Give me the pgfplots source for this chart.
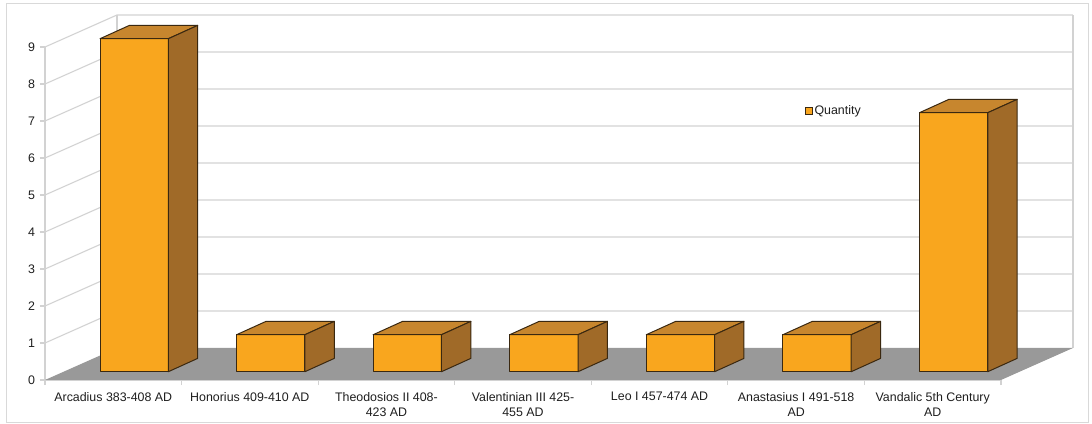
\documentclass[border=0pt]{standalone}
\usepackage{fontspec}
\setmainfont{Liberation Sans}
\usepackage{pgfplots}
\pgfplotsset{compat=1.18}
\usepackage{pgfplotstable}

\definecolor{barfront}{RGB}{249,166,30}
\definecolor{bartop}{RGB}{199,134,46}
\definecolor{barside}{RGB}{160,106,40}
\definecolor{barline}{RGB}{58,40,16}
\definecolor{floorgray}{RGB}{153,153,153}
\definecolor{gridgray}{RGB}{210,210,210}
\definecolor{framegray}{RGB}{217,217,217}
\definecolor{labeltext}{RGB}{30,30,30}

% coin finds per reign
\pgfplotstableread{
idx value
0 9
1 1
2 1
3 1
4 1
5 1
6 7
}\quantity

% oblique depth of the box, in data units
\def\wallx{0.527}\def\wally{0.865}   % back wall offset
\def\frontx{0.153}\def\fronty{0.224} % front face of each bar
\def\depthx{0.215}\def\depthy{0.36}  % bar depth
\def\halfw{0.25}                     % half bar width

\pgfplotsset{
  gridline/.style={draw=gridgray, line width=1.1pt, forget plot},
  barface/.style={draw=barline, line width=1pt, line join=round, forget plot},
}

\newcommand\wallgrid[1]{%
  \pgfmathsetmacro\gy{#1+\wally}%
  \pgfmathsetmacro\gxa{-0.5+\wallx}%
  \pgfmathsetmacro\gxb{6.5+\wallx}%
  \edef\tmp{\noexpand\addplot[gridline] coordinates {(-0.5,#1) (\gxa,\gy) (\gxb,\gy)};}\tmp}

\newcommand\drawbox[1]{%
  \pgfplotstablegetelem{#1}{value}\of\quantity
  \pgfmathsetmacro\yt{\pgfplotsretval+\fronty}%
  \pgfmathsetmacro\yb{\fronty}%
  \pgfmathsetmacro\xl{#1-\halfw+\frontx}%
  \pgfmathsetmacro\xr{#1+\halfw+\frontx}%
  \pgfmathsetmacro\xlb{\xl+\depthx}%
  \pgfmathsetmacro\xrb{\xr+\depthx}%
  \pgfmathsetmacro\ybb{\yb+\depthy}%
  \pgfmathsetmacro\ytb{\yt+\depthy}%
  \edef\tmp{%
    \noexpand\addplot[barface, fill=barfront] coordinates {(\xl,\yb) (\xr,\yb) (\xr,\yt) (\xl,\yt)} -- cycle;
    \noexpand\addplot[barface, fill=bartop] coordinates {(\xl,\yt) (\xr,\yt) (\xrb,\ytb) (\xlb,\ytb)} -- cycle;
    \noexpand\addplot[barface, fill=barside] coordinates {(\xr,\yb) (\xrb,\ybb) (\xrb,\ytb) (\xr,\yt)} -- cycle;
  }\tmp}

\begin{document}
\begin{tikzpicture}
\useasboundingbox (-45pt,-43pt) rectangle (1047pt,380pt);
\draw[framegray, line width=1pt] (-38pt,-42pt) rectangle (1043pt,376pt);
\begin{axis}[
  at={(0,0)}, anchor=south west,
  scale only axis, width=956pt, height=333pt,
  xmin=-0.5, xmax=6.5, ymin=0, ymax=9,
  clip=false,
  axis x line*=bottom, axis y line*=left,
  axis line style={draw=gridgray, line width=1.1pt},
  xtick={0,...,6},
  xticklabels={Arcadius 383-408 AD, Honorius 409-410 AD, Theodosios II 408-\\423 AD,
    Valentinian III 425-\\455 AD, Leo I 457-474 AD, Anastasius I 491-518\\AD,
    Vandalic 5th Century\\AD},
  minor xtick={-0.5,0.5,...,6.5},
  ytick={0,...,9},
  tick align=outside,
  major tick length=5pt, minor tick length=5pt,
  major x tick style={draw=none},
  minor x tick style={draw=gridgray, line width=1.1pt},
  major y tick style={draw=gridgray, line width=1.1pt},
  ticklabel style={font=\fontsize{12.4}{15}\selectfont, text=labeltext},
  xticklabel style={align=center, yshift=-3.5pt},
  yticklabel style={xshift=-1.5pt},
  /pgf/number format/assume math mode=true,
  legend style={at={(0.795,0.808)}, anchor=west, draw=none, fill=none,
    inner sep=0pt, font=\fontsize{12.4}{15}\selectfont, text=labeltext,
    nodes={inner sep=1.5pt}},
]
% back wall and left wall
\pgfplotsinvokeforeach{1,...,9}{\wallgrid{#1}}
\pgfmathsetmacro\wxa{-0.5+\wallx}
\pgfmathsetmacro\wxb{6.5+\wallx}
\pgfmathsetmacro\wtop{9+\wally}
\edef\tmp{%
  \noexpand\addplot[gridline] coordinates {(\wxa,\wally) (\wxa,\wtop)};
  \noexpand\addplot[gridline] coordinates {(\wxb,\wally) (\wxb,\wtop)};
  \noexpand\addplot[fill=floorgray, draw=none, forget plot] coordinates {(-0.5,0) (6.5,0) (\wxb,\wally) (\wxa,\wally)} -- cycle;
}\tmp
% bars
\pgfplotsinvokeforeach{0,...,6}{\drawbox{#1}}
\addlegendimage{legend image code/.code={\draw[fill=barfront, draw=barline, line width=0.8pt] (0pt,-3.5pt) rectangle (7pt,3.5pt);}}
\addlegendentry{Quantity}
\end{axis}
\end{tikzpicture}
\end{document}
